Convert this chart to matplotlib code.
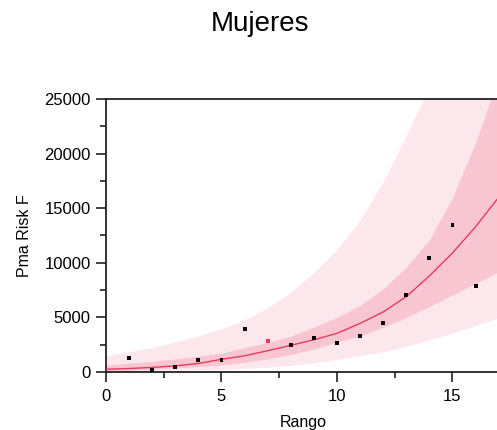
import matplotlib
matplotlib.use("Agg")
import matplotlib.pyplot as plt
from matplotlib.ticker import MultipleLocator

plt.rcParams['font.family'] = ['Liberation Sans', 'DejaVu Sans']

# Observed values by rank
rango = [1, 2, 3, 4, 5, 6, 7, 8, 9, 10, 11, 12, 13, 14, 15, 16, 17]
pma_risk = [1310, 155, 460, 1070, 1130, 3970, 2840, 2440, 3110, 2690,
            3270, 4520, 7020, 10410, 13490, 7880, 22900]
highlight_rank = 7

# Fitted curve and interval bands on a grid of ranks
grid = [0, 1, 2, 3, 4, 5, 6, 7, 8, 9, 10, 11, 12, 13, 14, 15, 16, 17, 18]
fit = [250, 320, 420, 560, 780, 1160, 1480, 1950, 2440, 2950, 3540,
       4450, 5500, 6900, 8800, 10900, 13300, 16000, 19200]
inner_hi = [640, 800, 980, 1200, 1450, 1710, 2250, 2700, 3300, 4100, 5000,
            6100, 7600, 9600, 12100, 16000, 21000, 27000, 34000]
inner_lo = [50, 150, 250, 370, 500, 640, 900, 1200, 1600, 2100, 2750,
            3300, 4100, 5000, 6000, 7050, 8100, 9200, 10400]
outer_hi = [1450, 1800, 2200, 2700, 3250, 3900, 4700, 5800, 7200, 9000,
            11100, 13800, 17300, 21500, 26000, 31000, 37000, 44000, 52000]
outer_lo = [0, 30, 80, 120, 150, 180, 280, 400, 550, 800, 1100, 1450,
            1800, 2300, 2900, 3500, 4200, 4900, 5400]

W, H = 497, 430
fig = plt.figure(figsize=(W / 100, H / 100), dpi=100)
left, right, top, bottom = 106, 501, 99, 372
ax = fig.add_axes([left / W, (H - bottom) / H, (right - left) / W, (bottom - top) / H])

line_c = '#E8395E'
ax.fill_between(grid, outer_lo, outer_hi, color='#FCE8EC', lw=0, zorder=1)
ax.fill_between(grid, inner_lo, inner_hi, color='#F8C6D0', lw=0, zorder=2)
ax.plot(grid, fit, color=line_c, lw=1.0, zorder=3)

colors = [line_c if r == highlight_rank else 'black' for r in rango]
ax.scatter(rango, pma_risk, marker='s', s=8, c=colors, lw=0, zorder=4)

ax.set_xlim(0, 17.1)
ax.set_ylim(0, 25000)
ax.xaxis.set_major_locator(MultipleLocator(5))
ax.xaxis.set_minor_locator(MultipleLocator(2.5))
ax.yaxis.set_major_locator(MultipleLocator(5000))
ax.yaxis.set_minor_locator(MultipleLocator(2500))

for s in ax.spines.values():
    s.set_color('#222222')
    s.set_linewidth(1.3)
ax.tick_params(which='major', direction='out', length=7, width=1.2,
               color='#222222', labelsize=12)
ax.tick_params(axis='y', which='major', pad=4)
ax.tick_params(axis='x', which='major', pad=5)
ax.tick_params(which='minor', direction='out', length=4.5, width=1.2,
               color='#222222')

ax.set_xlabel('Rango', fontsize=11.5, labelpad=8)
ax.set_ylabel('Pma Risk F', fontsize=11.5, labelpad=9)

fig.text(260 / W, 1 - 24 / H, 'Mujeres', ha='center', va='center', fontsize=20)

fig.savefig('out.png', dpi=100)
